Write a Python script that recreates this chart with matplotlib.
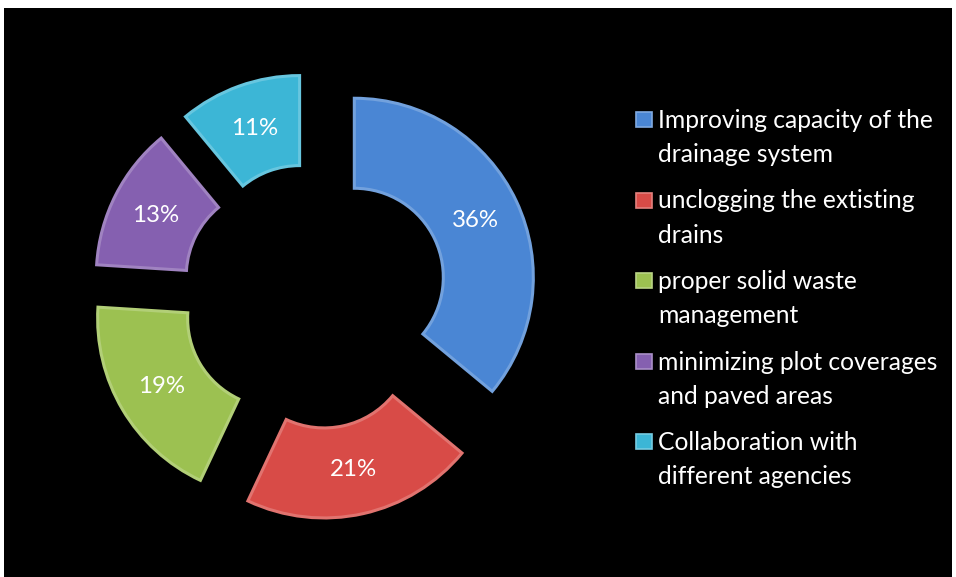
import numpy as np
import matplotlib.pyplot as plt
from matplotlib.patches import Rectangle
from matplotlib.colors import to_rgb

plt.rcParams['font.family'] = ['Lato', 'DejaVu Sans']

labels = ['Improving capacity of the\ndrainage system',
          'unclogging the extisting\ndrains',
          'proper solid waste\nmanagement',
          'minimizing plot coverages\nand paved areas',
          'Collaboration with\ndifferent agencies']
shares = [36, 21, 19, 13, 11]
colors = ['#4A86D4', '#D84B47', '#9CC151', '#8560B0', '#3CB6D6']


def lighten(c, f):
    r, g, b = to_rgb(c)
    return (r + (1 - r) * f, g + (1 - g) * f, b + (1 - b) * f)


W, H = 956, 577
fig = plt.figure(figsize=(W / 100, H / 100), dpi=100)
fig.patch.set_facecolor('white')
fig.add_artist(Rectangle((4 / W, 0), 948 / W, 569 / H, transform=fig.transFigure,
                         facecolor='black', edgecolor='none', zorder=0))

ax = fig.add_axes([0, 0, 1, 1])
ax.set_facecolor('none')

# axes in pixel units so the donut keeps its proportions
R = 179
wedges, texts, autotexts = ax.pie(
    shares, colors=colors, startangle=90, counterclock=False,
    center=(314.5, H - 296), radius=R, explode=[44] * len(shares),
    autopct='%1.0f%%', pctdistance=0.75, frame=True,
    wedgeprops=dict(width=90, linewidth=2.2),
    textprops=dict(color='white', fontsize=17.3))

for w, c in zip(wedges, colors):
    w.set_edgecolor(lighten(c, 0.22))
    w.set_joinstyle('miter')

ax.set_xlim(0, W)
ax.set_ylim(0, H)
ax.set_aspect('equal')
ax.axis('off')

# legend: marker lined up with the first line of each two-line label
for i, (lab, c) in enumerate(zip(labels, colors)):
    ytop = H - 112 - i * 80.5
    ax.add_patch(Rectangle((636, ytop - 15), 16, 15, facecolor=c,
                           edgecolor=lighten(c, 0.3), linewidth=1.2))
    ax.text(658, ytop + 3, lab, color='white', fontsize=17.7,
            va='top', ha='left', linespacing=1.58)

fig.savefig('out.png', dpi=100, facecolor=fig.get_facecolor())
